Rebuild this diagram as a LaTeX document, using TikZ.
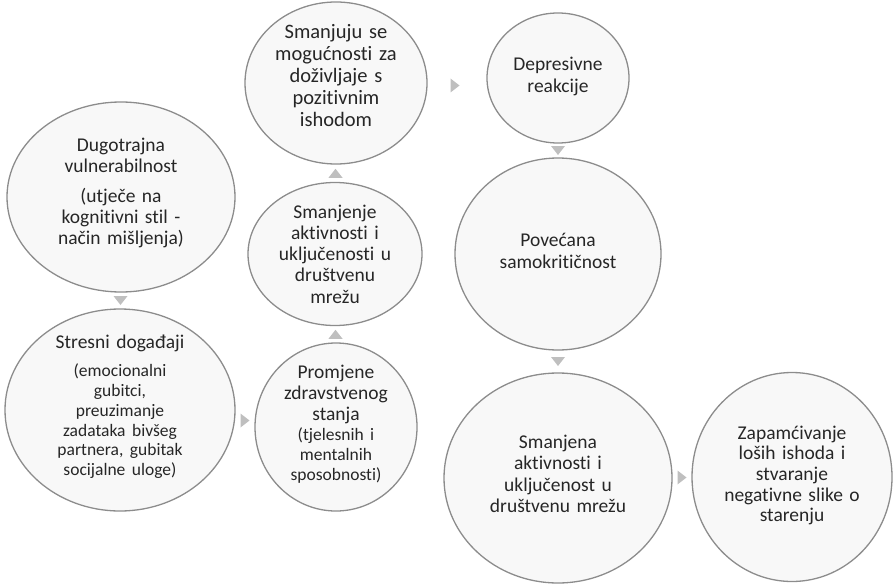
\documentclass[tikz,border=0pt]{standalone}
\usepackage{fontspec}
\setmainfont{Carlito}[Ligatures={NoCommon,NoRare}]
\usetikzlibrary{shapes.geometric,calc}
\definecolor{bubfill}{HTML}{F8F8F8}
\definecolor{bubline}{HTML}{8C8C8C}
\definecolor{arrcol}{HTML}{BFBFBF}
\newcommand\tridown[1]{\fill[arrcol] (#1) +(-7,-4.5) -- +(7,-4.5) -- +(0,4.5) -- cycle;}
\newcommand\triup[1]{\fill[arrcol] (#1) +(-7,4.5) -- +(7,4.5) -- +(0,-4.5) -- cycle;}
\newcommand\triright[1]{\fill[arrcol] (#1) +(-4.5,-7) -- +(-4.5,7) -- +(4.5,0) -- cycle;}
\newcommand\smalltxt{\fontsize{17.5}{19.8}\selectfont}
\begin{document}
\begin{tikzpicture}[x=1pt,y=-1pt,
  bub/.style={ellipse, draw=bubline, fill=bubfill, line width=1.3pt, inner sep=0pt},
  txt/.style={text width=220pt, align=center, inner sep=0pt, text=black!85,
              font=\fontsize{19.5}{21.3}\selectfont}]
\useasboundingbox (0,0) rectangle (893,583);
% bubbles
\node[bub, minimum width=228pt, minimum height=190pt] (A) at (121,197) {};
\node[bub, minimum width=230pt, minimum height=202pt] (B) at (120,410) {};
\node[bub, minimum width=162pt, minimum height=168pt] (C) at (336,427) {};
\node[bub, minimum width=174pt, minimum height=143pt] (D) at (335,254) {};
\node[bub, minimum width=182pt, minimum height=162pt] (E) at (336,83) {};
\node[bub, minimum width=142pt, minimum height=130pt] (F) at (558,78) {};
\node[bub, minimum width=206pt, minimum height=192pt] (G) at (558,254) {};
\node[bub, minimum width=228pt, minimum height=210pt] (H) at (558,478) {};
\node[bub, minimum width=200pt, minimum height=209pt] (I) at (792,477) {};
% texts
\node[txt] (At) at ([yshift=4]A.center) {Dugotrajna\\vulnerabilnost\par\vspace{8pt}(utječe na\\kognitivni stil -\\način mišljenja)};
\node[txt] (Bt) at ([yshift=3]B.center) {Stresni događaji\par\vspace{8pt}{\smalltxt(emocionalni\\gubitci,\\preuzimanje\\zadataka bivšeg\\partnera, gubitak\\socijalne uloge)\par}};
\node[txt] (Ct) at ([yshift=3]C.center) {Promjene\\zdravstvenog\\stanja\par{\smalltxt(tjelesnih i\\mentalnih\\sposobnosti)\par}};
\node[txt] (Dt) at (D) {Smanjenje\\aktivnosti i\\uključenosti u\\društvenu\\mrežu};
\node[txt, font=\fontsize{20.5}{22}\selectfont] (Et) at ([yshift=7]E.center) {Smanjuju se\\mogućnosti za\\doživljaje s\\pozitivnim\\ishodom};
\node[txt] (Ft) at ([yshift=1.5]F.center) {Depresivne\\reakcije};
\node[txt] (Gt) at ([yshift=3]G.center) {Povećana\\samokritičnost};
\node[txt] (Ht) at ([yshift=4]H.center) {Smanjena\\aktivnosti i\\uključenost u\\društvenu mrežu};
\node[txt, font=\fontsize{19.5}{20.6}\selectfont] (It) at ([yshift=1.5]I.center) {Zapamćivanje\\loših ishoda i\\stvaranje\\negativne slike o\\starenju};
% connectors
\coordinate (ab) at ($(A.south)!0.5!(B.north)$);
\coordinate (bc) at ($(B.east)!0.5!(C.west)+(0,2)$);
\coordinate (cd) at ($(C.north)!0.5!(D.south)$);
\coordinate (de) at ($(D.north)!0.5!(E.south)$);
\coordinate (ef) at ($(E.east)!0.5!(F.west)+(-2,5)$);
\coordinate (fg) at ($(F.south)!0.5!(G.north)$);
\coordinate (gh) at ($(G.south)!0.5!(H.north)$);
\coordinate (hi) at ($(H.east)!0.5!(I.west)$);
\tridown{ab}
\triright{bc}
\triup{cd}
\triup{de}
\triright{ef}
\tridown{fg}
\tridown{gh}
\triright{hi}
\end{tikzpicture}
\end{document}
